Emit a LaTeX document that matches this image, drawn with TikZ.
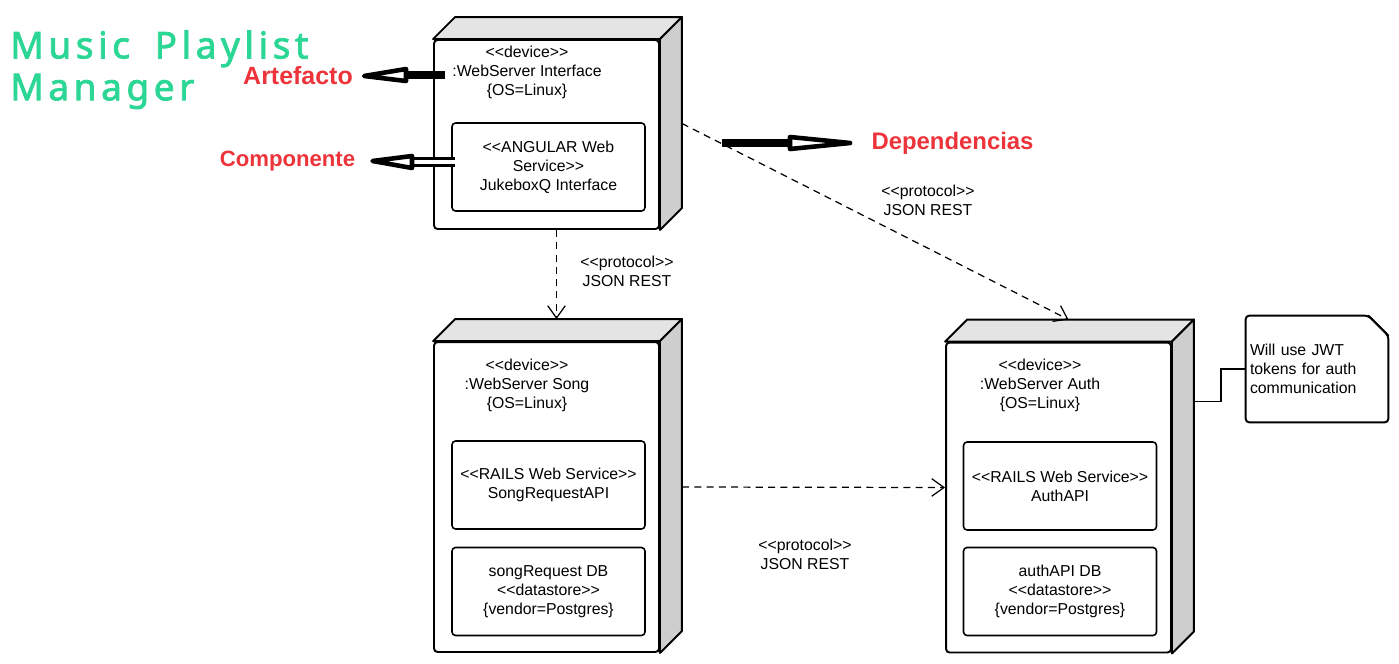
\documentclass[tikz,border=0pt]{standalone}
\usepackage{fontspec}
\setmainfont{Liberation Sans}
\newfontfamily\umlfont{Liberation Sans}
\newfontfamily\titlefont[LetterSpace=12.5, FakeBold=2.2]{Noto Sans}
\usepackage{tikz}
\usetikzlibrary{positioning}
\usetikzlibrary{calc}
\usetikzlibrary{arrows.meta}
\definecolor{titlegreen}{RGB}{44,214,148}
\definecolor{labelred}{RGB}{236,52,58}
\definecolor{topgray}{RGB}{228,228,228}
\definecolor{sidegray}{RGB}{206,206,206}
\tikzset{
  devface/.style={draw, line width=1.1pt, rounded corners=2pt, fill=white, minimum width=4.5cm, inner sep=0pt},
  face/.style={draw, line width=1.1pt, line join=round},
  hdr/.style={font=\umlfont\fontsize{9}{10.8}\selectfont, align=center, inner sep=0pt},
  inbox/.style={draw, line width=0.9pt, rounded corners=2pt, minimum width=3.86cm, minimum height=1.76cm, align=center, inner sep=0pt, font=\umlfont\fontsize{9}{10.8}\selectfont},
  dep/.style={line width=0.7pt, dash pattern=on 4pt off 3pt, -{Straight Barb[length=7pt,width=10pt]}},
  redlbl/.style={text=labelred, inner sep=0pt},
  handbar/.style={line width=4.5pt},
  handhead/.style={line width=2.6pt, fill=white, line join=round},
}
\begin{document}
\begin{tikzpicture}[x=0.02cm, y=-0.02cm]
\useasboundingbox (0,0) rectangle (1399,663);
% -- title --
\node[font=\titlefont\fontsize{21}{23.8}\selectfont, text=titlegreen, align=left, inner sep=0pt, anchor=north west] (title) at (10,30) {Music\hspace{6pt} Playlist\\Manager};
% -- node 1: WebServer Interface --
\node[devface, minimum height=3.78cm] (iface) at (546.5,134.5) {};
\draw[face, fill=topgray] (iface.north west) -- ++(22,-22) -- ($(iface.north east)+(22,-22)$) -- (iface.north east) -- cycle;
\draw[face, fill=sidegray] (iface.north east) -- ++(22,-22) -- ($(iface.south east)+(22,-22)$) -- (iface.south east) -- cycle;
\node[hdr] (ifacehdr) at (527,72) {<<device>>\\:WebServer Interface\\\{OS=Linux\}};
\node[inbox] (jukebox) at (548.5,167) {<<ANGULAR Web\\Service>>\\JukeboxQ Interface};
% -- node 2: WebServer Song --
\node[devface, minimum height=6.2cm] (song) at (546.5,497) {};
\draw[face, fill=topgray] (song.north west) -- ++(22,-22) -- ($(song.north east)+(22,-22)$) -- (song.north east) -- cycle;
\draw[face, fill=sidegray] (song.north east) -- ++(22,-22) -- ($(song.south east)+(22,-22)$) -- (song.south east) -- cycle;
\node[hdr] (songhdr) at (527,385) {<<device>>\\:WebServer Song\\\{OS=Linux\}};
\node[inbox] (songapi) at (548.5,485) {<<RAILS Web Service>>\\SongRequestAPI};
\node[inbox] (songdb) at (548.5,591.5) {songRequest DB\\<<datastore>>\\\{vendor=Postgres\}};
% -- node 3: WebServer Auth --
\node[devface, minimum height=6.2cm] (auth) at (1058.5,497.5) {};
\draw[face, fill=topgray] (auth.north west) -- ++(22,-22) -- ($(auth.north east)+(22,-22)$) -- (auth.north east) -- cycle;
\draw[face, fill=sidegray] (auth.north east) -- ++(22,-22) -- ($(auth.south east)+(22,-22)$) -- (auth.south east) -- cycle;
\node[hdr] (authhdr) at (1040,385) {<<device>>\\:WebServer Auth\\\{OS=Linux\}};
\node[inbox] (authapi) at (1060,486) {<<RAILS Web Service>>\\AuthAPI};
\node[inbox] (authdb) at (1060,591.5) {authAPI DB\\<<datastore>>\\\{vendor=Postgres\}};
% -- note --
\node[font=\umlfont\fontsize{9}{10.8}\selectfont, align=left, minimum width=2.84cm, minimum height=2.12cm, text width=2.68cm, inner sep=0.08cm] (note) at (1317,369) {Will use JWT\\tokens for auth\\communication};
\draw[line width=1.1pt, rounded corners=2pt] ($(note.north east)+(-20,0)$) -- (note.north west) -- (note.south west) -- (note.south east) -- ($(note.north east)+(0,20)$) -- cycle;
\draw[line width=1.1pt, fill=sidegray, line join=round] ($(note.north east)+(-20,0)$) -- ($(note.north east)+(-3,17)$) -- ($(note.north east)+(0,20)$) -- cycle;
\draw[line width=1pt] ($(auth.east)+(22,-96)$) -- ++(27,0) |- (note.west);
% -- dependencies --
\draw[dep] ($(iface.south)+(10,0)$) -- ($(song.north)+(10,-22)$);
\draw[dep] ($(iface.east)+(22,-11)$) -- ($(auth.north)+(10,-22)$);
\draw[dep] ($(song.east)+(22,-10)$) -- ($(auth.west)+(0,-10)$);
\node[hdr] (proto1) at (627,271) {<<protocol>>\\JSON REST};
\node[hdr] (proto2) at (928,200.5) {<<protocol>>\\JSON REST};
\node[hdr] (proto3) at (805,554.5) {<<protocol>>\\JSON REST};
% -- red labels with hand arrows --
\node[redlbl, font=\bfseries\fontsize{14.2}{16}\selectfont] (artlbl) at (298,76) {Artefacto};
\node[redlbl, font=\bfseries\fontsize{12.6}{16}\selectfont] (complbl) at (287.5,161) {Componente};
\node[redlbl, font=\bfseries\fontsize{13.6}{16}\selectfont] (deplbl) at (952.5,143) {Dependencias};
\coordinate (artfrom) at (445,75);
\coordinate (compfrom) at (455,162);
\coordinate (depfrom) at (722,143);
\draw[handbar] (artfrom) -- ++(-41,0);
\draw[handhead] ($(artfrom)+(-39,-6)$) -- ($(artlbl.east)+(11,0)$) -- ($(artfrom)+(-39,6)$) -- cycle;
\draw[line width=1.8pt, double distance=2pt] (compfrom) -- ++(-45,0);
\draw[handhead] ($(compfrom)+(-43,-6)$) -- ($(complbl.east)+(17,0)$) -- ($(compfrom)+(-43,6)$) -- cycle;
\draw[handbar] (depfrom) -- ++(68,0);
\draw[handhead] ($(depfrom)+(68,-6)$) -- ($(deplbl.west)+(-21,0)$) -- ($(depfrom)+(68,6)$) -- cycle;
\end{tikzpicture}
\end{document}
